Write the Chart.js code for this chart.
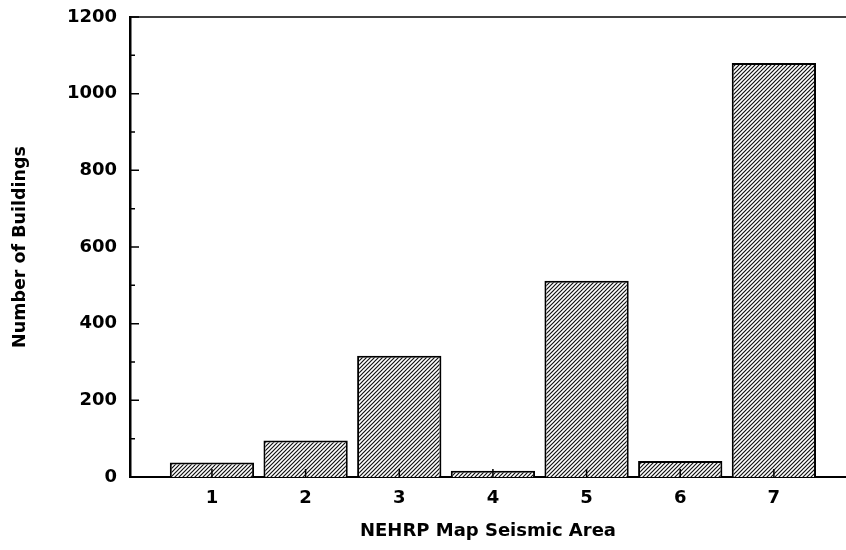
<!DOCTYPE html>
<html>
<head>
<meta charset="utf-8">
<script src="https://cdn.jsdelivr.net/npm/chart.js@4"></script>
<style>
html,body{margin:0;padding:0;background:#fff;}
#wrap{width:846px;height:550px;}
</style>
</head>
<body>
<div id="wrap"><canvas id="c" width="846" height="550"></canvas></div>
<script>
const areas = [1, 2, 3, 4, 5, 6, 7];
const buildings = [38, 95, 316, 16, 512, 42, 1080];
const yTicks = [0, 200, 400, 600, 800, 1000, 1200];
const xTitle = 'NEHRP Map Seismic Area';
const yTitle = 'Number of Buildings';

function hatch() {
  const c = document.createElement('canvas');
  c.width = 4; c.height = 4;
  const g = c.getContext('2d');
  g.fillStyle = '#fff'; g.fillRect(0, 0, 4, 4);
  g.strokeStyle = '#111'; g.lineWidth = 1.2;
  g.beginPath();
  g.moveTo(-1, 5); g.lineTo(5, -1);
  g.moveTo(-1, 1); g.lineTo(1, -1);
  g.moveTo(3, 5); g.lineTo(5, 3);
  g.stroke();
  return g.createPattern(c, 'repeat');
}

const inwardTicks = {
  id: 'inwardTicks',
  afterDraw(chart) {
    const ctx = chart.ctx, ya = chart.scales.y, xa = chart.scales.x, a = chart.chartArea;
    ctx.save();
    ctx.strokeStyle = '#000';
    ctx.lineWidth = 1.5;
    ctx.beginPath();
    for (let v = 0; v <= 1200; v += 100) {
      const p = ya.getPixelForValue(v);
      const len = (v % 200 === 0) ? 9 : 5;
      ctx.moveTo(a.left, p); ctx.lineTo(a.left + len, p);
    }
    areas.forEach(v => {
      const p = xa.getPixelForValue(v);
      ctx.moveTo(p, a.bottom); ctx.lineTo(p, a.bottom - 8);
    });
    ctx.stroke();
    ctx.beginPath();
    ctx.moveTo(a.left, a.top); ctx.lineTo(a.right, a.top);
    ctx.stroke();
    ctx.restore();
  }
};

const tickFont = {family: '"DejaVu Sans", sans-serif', size: 18, weight: 'bold'};
const xTitleFont = {family: '"DejaVu Sans", sans-serif', size: 18, weight: 'bold'};
const yTitleFont = {family: '"DejaVu Sans", sans-serif', size: 17.5, weight: 'bold'};

new Chart(document.getElementById('c'), {
  type: 'bar',
  data: {
    datasets: [{
      data: areas.map((a, i) => ({x: a, y: buildings[i]})),
      backgroundColor: hatch(),
      borderColor: '#000',
      borderWidth: 2,
      borderSkipped: 'bottom',
      categoryPercentage: 1,
      barPercentage: 0.9
    }]
  },
  options: {
    responsive: false,
    animation: false,
    devicePixelRatio: 1,
    layout: {padding: {top: 17, right: 0, left: 0, bottom: 0}},
    plugins: {legend: {display: false}, tooltip: {enabled: false}},
    scales: {
      x: {
        type: 'linear',
        offset: false,
        min: 0.125,
        max: 7.77,
        grid: {display: false, drawTicks: false, offset: false},
        border: {display: true, color: '#000', width: 2},
        afterBuildTicks: s => { s.ticks = areas.map(v => ({value: v})); },
        ticks: {color: '#000', font: tickFont, padding: 11, autoSkip: false, maxRotation: 0,
                callback: v => String(v)},
        title: {display: true, text: xTitle, color: '#000', font: xTitleFont, padding: {top: 0, bottom: 8}},
        afterFit: s => { s.height = 73; s.paddingLeft = 0; s.paddingRight = 0; }
      },
      y: {
        min: 0,
        max: 1200,
        grid: {display: false, drawTicks: false},
        border: {display: true, color: '#000', width: 2.5},
        afterBuildTicks: s => { s.ticks = yTicks.map(v => ({value: v})); },
        ticks: {color: '#000', font: tickFont, padding: 13, callback: v => String(v)},
        title: {display: true, text: yTitle, color: '#000', font: yTitleFont, padding: {top: 10, bottom: 0}},
        afterFit: s => { s.width = 130; s.paddingTop = 0; s.paddingBottom = 0; }
      }
    }
  },
  plugins: [inwardTicks]
});
</script>
</body>
</html>
